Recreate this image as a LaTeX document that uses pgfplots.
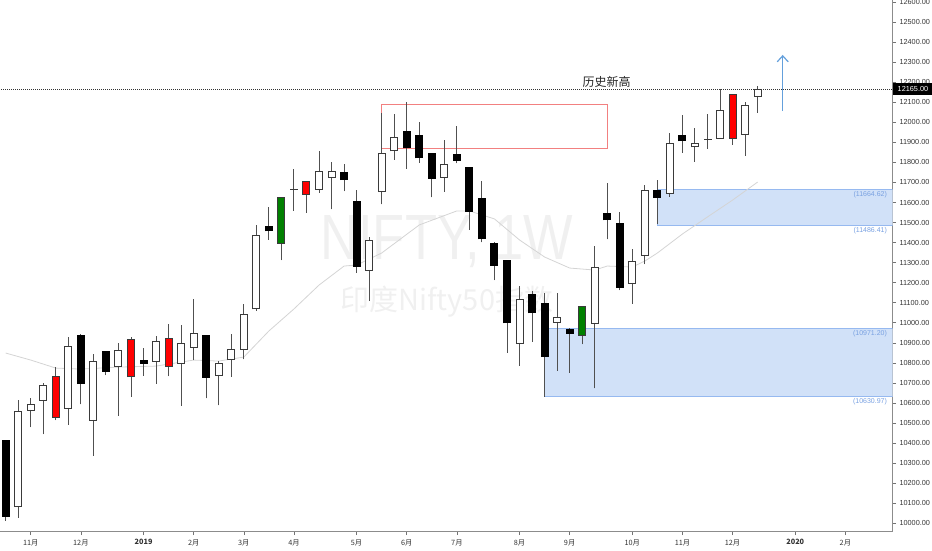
\documentclass[border=0pt]{standalone}
\usepackage{fontspec}
\setmainfont{Liberation Sans}
\newfontfamily\cjk{Noto Sans CJK SC}
\usepackage{pgfplots}
\pgfplotsset{compat=1.18}
\usepackage{pgfplotstable}
\usetikzlibrary{arrows.meta}

\definecolor{wickc}{HTML}{505050}
\definecolor{bordc}{HTML}{3A3A3A}
\definecolor{redc}{HTML}{FF0000}
\definecolor{greenc}{HTML}{008000}
\definecolor{zonefill}{RGB}{209,225,248}
\definecolor{zonedraw}{RGB}{150,185,240}
\definecolor{zonetext}{RGB}{120,160,225}
\definecolor{rectred}{RGB}{242,128,128}
\definecolor{arrowc}{RGB}{100,160,220}
\definecolor{mac}{RGB}{212,212,212}
\definecolor{wm}{RGB}{240,240,240}
\definecolor{tickc}{HTML}{333333}

% x = bar index, lo = low, bot/top = body, hi = high
\pgfplotstableread{
x lo bot top hi
1 10028 10083 10558 10615
2 10479 10563 10590 10623
3 10444 10613 10686 10698
5 10492 10573 10881 10927
7 10337 10513 10808 10844
9 10536 10783 10864 10899
12 10696 10809 10909 10934
14 10585 10798 10897 10989
15 10814 10879 10946 11119
17 10588 10739 10798 10811
18 10731 10816 10867 10944
19 10818 10867 11042 11092
20 11060 11069 11433 11488
23 11559 11667 11667 11765
25 11649 11667 11755 11857
26 11566 11727 11757 11800
29 11110 11262 11411 11429
30 11591 11654 11845 12045
31 11813 11857 11925 12041
35 11654 11726 11789 11912
41 10786 10899 11114 11185
44 10761 11002 11027 11147
47 10673 10997 11278 11384
50 11094 11197 11307 11366
51 11292 11338 11662 11687
53 11629 11646 11892 11945
55 11803 11878 11895 11973
56 11868 11915 11915 12040
57 11917 11920 12058 12165
59 11833 11940 12086 12101
60 12048 12131 12165 12183
}\tw

\pgfplotstableread{
x lo bot top hi
0 10013 10036 10412 10415
6 10593 10696 10937 10944
8 10739 10758 10857 10859
11 10736 10799 10811 10874
16 10623 10728 10937 10937
21 11413 11458 11478 11576
27 11657 11714 11750 11790
28 11250 11282 11607 11662
32 11769 11872 11953 12103
33 11798 11823 11933 12001
34 11626 11721 11845 11845
36 11795 11810 11840 11983
37 11463 11554 11773 11773
38 11401 11418 11619 11709
39 11213 11287 11394 11403
40 10851 10999 11313 11313
42 10906 11050 11142 11160
43 10631 10831 11097 11147
45 10751 10947 10965 10972
48 11416 11513 11546 11696
49 11163 11178 11493 11554
52 11493 11627 11659 11712
54 11848 11907 11932 12035
}\tb

\pgfplotstableread{
x lo bot top hi
4 10515 10530 10734 10778
10 10631 10731 10916 10927
13 10734 10783 10922 10992
24 11549 11642 11704 11709
58 11887 11920 12139 12141
}\tr

\pgfplotstableread{
x lo bot top hi
22 11313 11396 11624 11629
46 10893 10939 11079 11085
}\tg

\pgfplotstableread{
x v
0 10849
2 10814
4 10774
6 10769
9 10779
12 10784
15 10814
17 10809
19 10829
21 10959
23 11069
25 11188
27 11283
28 11288
30 11348
33 11488
36 11558
37 11558
39 11518
41 11413
43 11328
45 11273
47 11263
48 11283
50 11278
51 11308
52 11348
54 11443
56 11528
58 11612
60 11702
}\tma

\pgfplotsset{
  nomark/.style={only marks, mark=*, mark size=0pt, mark options={draw=none, fill=none}, forget plot},
  wick/.style={nomark,
    error bars/.cd, y dir=plus, y explicit, error mark=none,
    error bar style={line width=1pt, draw=wickc, solid}},
  bodyout/.style={nomark,
    error bars/.cd, y dir=plus, y explicit, error mark=none,
    error bar style={line width=8pt, draw=#1, solid}},
  bodyin/.style={nomark,
    error bars/.cd, y dir=plus, y explicit, error mark=none,
    error bar style={line width=6pt, draw=#1, solid}},
}

\newcommand{\wicks}[1]{\addplot[wick] table[x=x, y=lo, y error plus expr=\thisrow{hi}-\thisrow{lo}] {#1};}
\newcommand{\bodyo}[2]{\addplot[bodyout=#2] table[x=x, y expr=\thisrow{bot}-2.5, y error plus expr=\thisrow{top}-\thisrow{bot}+5] {#1};}
\newcommand{\bodyi}[2]{\addplot[bodyin=#2] table[x=x, y expr=\thisrow{bot}+2.5, y error plus expr={max(\thisrow{top}-\thisrow{bot}-5,0)}] {#1};}

\begin{document}
\begin{tikzpicture}
\useasboundingbox (0pt,-18.5pt) rectangle (932pt,531.5pt);
\begin{axis}[
  at={(0pt,0pt)}, anchor=south west,
  scale only axis, width=892.5pt, height=531.5pt,
  xmin=-0.455, xmax=70.76, ymin=9958.9, ymax=12610,
  axis x line*=bottom, axis y line*=right,
  axis line style={-, draw=black!45, line width=0.8pt},
  xtick={2,6,11,15,19,23,28,32,36,41,45,50,54,58,63,67},
  xticklabels={11月,12月,\textbf{2019},2月,3月,4月,5月,6月,7月,8月,9月,10月,11月,12月,\textbf{2020},2月},
  ytick={10000,10100,...,12600},
  scaled y ticks=false,
  tick align=outside,
  major tick length=3.5pt,
  tick style={draw=black!55, line width=0.6pt},
  xticklabel style={font=\cjk\fontsize{7.3}{8}\selectfont, text=tickc, yshift=-1pt},
  yticklabel style={font=\fontsize{7.3}{8}\selectfont, text=tickc,
    /pgf/number format/.cd, fixed, fixed zerofill, precision=2, 1000 sep={}, assume math mode=true},
  clip=true,
]
% watermark
\node[text=wm, font=\fontsize{64}{64}\selectfont, anchor=base] at (axis cs:35.2,11318) {\scalebox{0.82}[1]{NIFTY, 1W}};
\node[text=wm, font=\cjk\fontsize{29}{29}\selectfont] at (axis cs:35.2,11104) {印度Nifty50指数};

% zones
\addplot[fill=zonefill, draw=zonedraw, line width=0.9pt] coordinates {(72,11486.41) (52,11486.41) (52,11664.62) (72,11664.62)};
\addplot[fill=zonefill, draw=zonedraw, line width=0.9pt] coordinates {(72,10630.97) (43,10630.97) (43,10971.20) (72,10971.20)};
\addplot[draw=rectred, line width=0.9pt] coordinates {(30,11872) (48,11872) (48,12091) (30,12091) (30,11872)};

% moving average
\addplot[mac, line width=0.8pt] table[x=x, y=v] {\tma};

% current price line
\addplot[black!80, line width=0.7pt, dash pattern=on 0.8pt off 1.2pt] coordinates {(-1,12165) (72,12165)};

% candles
\wicks{\tw}\wicks{\tb}\wicks{\tr}\wicks{\tg}
\bodyo{\tw}{bordc}\bodyi{\tw}{white}
\bodyo{\tb}{black}
\bodyo{\tr}{bordc}\bodyi{\tr}{redc}
\bodyo{\tg}{bordc}\bodyi{\tg}{greenc}

% arrow
\addplot[arrowc, line width=1.2pt, -{Straight Barb[length=6pt,width=11pt]}] coordinates {(62,12056) (62,12336)};

% texts
\node[font=\cjk\fontsize{12}{12}\selectfont, text=black!85] at (axis cs:47.94,12203) {历史新高};
\node[anchor=north east, font=\fontsize{7}{8}\selectfont, text=zonetext, inner sep=1.5pt] at (axis cs:70.45,11664.62) {(11664.62)};
\node[anchor=north east, font=\fontsize{7}{8}\selectfont, text=zonetext, inner sep=1.5pt] at (axis cs:70.45,11486.41) {(11486.41)};
\node[anchor=north east, font=\fontsize{7}{8}\selectfont, text=zonetext, inner sep=1.5pt] at (axis cs:70.45,10971.20) {(10971.20)};
\node[anchor=north east, font=\fontsize{7}{8}\selectfont, text=zonetext, inner sep=1.5pt] at (axis cs:70.45,10630.97) {(10630.97)};

\coordinate (pt) at (axis cs:70.76,12165);
\end{axis}
\node[fill=black, text=white, anchor=west, font=\fontsize{7.3}{8}\selectfont,
  minimum height=12pt, minimum width=39.5pt, inner xsep=2pt, inner ysep=0pt, xshift=0.5pt] at (pt) {12165.00};
\end{tikzpicture}
\end{document}
